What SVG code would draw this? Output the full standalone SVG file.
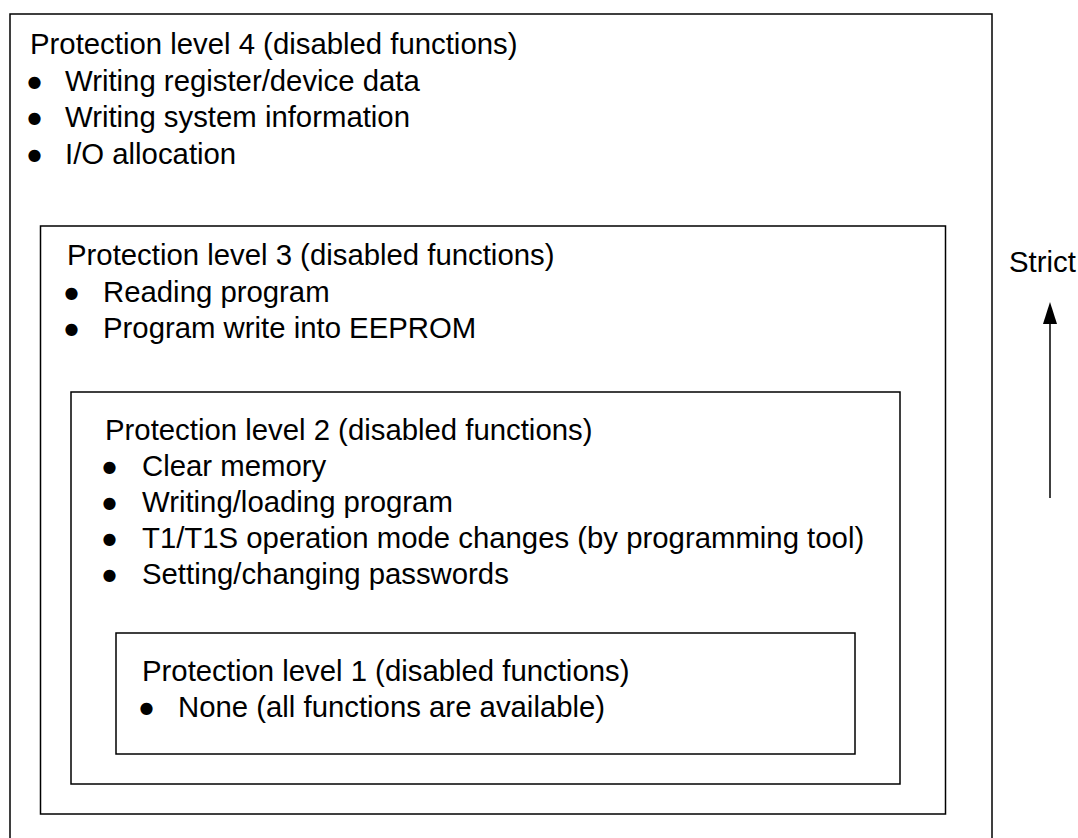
<svg xmlns="http://www.w3.org/2000/svg" width="1078" height="838" viewBox="0 0 1078 838">
<style>
.box{fill:none;stroke:#000;stroke-width:1.5}
.t{font-family:"Liberation Sans",Arial,sans-serif;font-size:29.33px;fill:#000}
.b{font-family:"DejaVu Sans",sans-serif;font-size:16px;fill:#000}
.conn{stroke:#000;stroke-width:1.5;fill:none}
</style>
<rect width="1078" height="838" fill="#fff"/>
<g id="level4">
<rect class="box" x="10" y="14" width="982" height="850"/>
<text class="t" x="30" y="54">Protection level 4 (disabled functions)</text>
<text class="b" x="27.5" y="86.5">●</text>
<text class="b" x="27.5" y="122.5">●</text>
<text class="b" x="27.5" y="159.5">●</text>
<text class="t" x="65" y="91">Writing register/device data</text>
<text class="t" x="65" y="127">Writing system information</text>
<text class="t" x="65" y="164">I/O allocation</text>
</g>
<g id="level3">
<rect class="box" x="40.5" y="226" width="905" height="588"/>
<text class="t" x="67" y="265">Protection level 3 (disabled functions)</text>
<text class="b" x="64.5" y="297.5">●</text>
<text class="b" x="64.5" y="333.5">●</text>
<text class="t" x="103" y="302">Reading program</text>
<text class="t" x="103" y="338">Program write into EEPROM</text>
</g>
<g id="level2">
<rect class="box" x="71" y="392" width="829" height="392"/>
<text class="t" x="105" y="440">Protection level 2 (disabled functions)</text>
<text class="b" x="102.5" y="471.5">●</text>
<text class="b" x="102.5" y="507.5">●</text>
<text class="b" x="102.5" y="543.5">●</text>
<text class="b" x="102.5" y="579.5">●</text>
<text class="t" x="142" y="476">Clear memory</text>
<text class="t" x="142" y="512">Writing/loading program</text>
<text class="t" x="142" y="548">T1/T1S operation mode changes (by programming tool)</text>
<text class="t" x="142" y="584">Setting/changing passwords</text>
</g>
<g id="level1">
<rect class="box" x="116" y="633" width="739" height="121"/>
<text class="t" x="142" y="681">Protection level 1 (disabled functions)</text>
<text class="b" x="139.5" y="712.5">●</text>
<text class="t" x="178" y="717">None (all functions are available)</text>
</g>
<g id="strict">
<text class="t" x="1009" y="272">Strict</text>
</g>
<g id="connectors">
<line class="conn" x1="1050" y1="498" x2="1050" y2="320"/>
<polygon points="1050,302 1043,324 1057,324" fill="#000"/>
</g>
</svg>
